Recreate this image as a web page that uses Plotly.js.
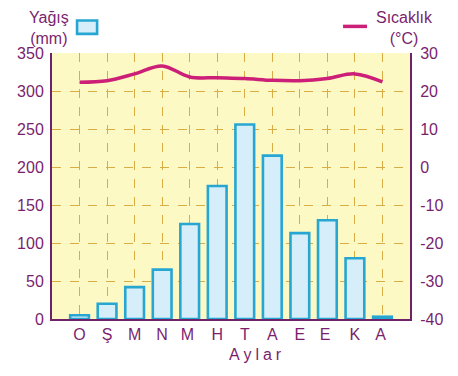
<!DOCTYPE html>
<html>
<head>
<meta charset="utf-8">
<script src="https://cdn.plot.ly/plotly-3.0.1.min.js"></script>
<style>
html,body{margin:0;padding:0;background:#fff;}
#chart{width:458px;height:376px;}
.spaced .annotation-text{letter-spacing:4px;}
</style>
</head>
<body>
<div id="chart"></div>
<script>
const months = ["O", "Ş", "M", "N", "M ", "H", "T", "A", "E", "E ", "K", "A "];
const monthIndex = [0, 1, 2, 3, 4, 5, 6, 7, 8, 9, 10, 11];
const precipitation = [5, 20, 42, 65, 125, 175, 256, 215, 113, 130, 80, 3];
const temperature = [22.3, 22.7, 24.5, 26.6, 23.7, 23.5, 23.3, 22.8, 22.7, 23.3, 24.5, 22.4];
const leftTicks = [0, 50, 100, 150, 200, 250, 300, 350];
const rightTicks = [-40, -30, -20, -10, 0, 10, 20, 30];
const rightTickText = ["-40", "-30", "-20", "-10", "0", "10", "20", "30"];

const purple = "#6e2368";
const textPurple = "#7a1f6f";
const font = "Liberation Sans, Arial, sans-serif";

const traces = [
  {
    type: "bar",
    x: monthIndex,
    y: precipitation,
    yaxis: "y",
    width: 0.68,
    marker: {color: "#d5eef9", line: {color: "#27a6d2", width: 2.6}},
    hoverinfo: "skip"
  },
  {
    type: "scatter",
    mode: "lines",
    x: monthIndex,
    y: temperature,
    yaxis: "y2",
    line: {color: "#cc1f78", width: 3.5, shape: "spline", smoothing: 1},
    hoverinfo: "skip"
  }
];

const layout = {
  width: 458,
  height: 376,
  margin: {l: 52, r: 48, t: 53, b: 57},
  paper_bgcolor: "#ffffff",
  plot_bgcolor: "#fdf9c4",
  showlegend: false,
  font: {family: font, color: textPurple, size: 15},
  xaxis: {
    range: [-1, 12],
    tickvals: monthIndex,
    ticktext: months,
    showgrid: true,
    gridcolor: "#d9ad45",
    griddash: "dash",
    gridwidth: 1,
    showline: true,
    linecolor: purple,
    linewidth: 2,
    ticks: "",
    zeroline: false,
    tickfont: {size: 16, color: textPurple, family: font},
    fixedrange: true
  },
  yaxis: {
    range: [0, 350],
    tickvals: leftTicks,
    showgrid: true,
    gridcolor: "#d9ad45",
    griddash: "dash",
    gridwidth: 1,
    showline: true,
    linecolor: purple,
    linewidth: 2,
    ticks: "",
    ticklabelstandoff: 3,
    zeroline: false,
    tickfont: {size: 16, color: textPurple, family: font}
  },
  yaxis2: {
    range: [-40, 30],
    tickvals: rightTicks,
    ticktext: rightTickText,
    overlaying: "y",
    side: "right",
    showgrid: false,
    showline: true,
    linecolor: purple,
    linewidth: 2,
    ticks: "",
    ticklabelstandoff: 5,
    zeroline: false,
    tickfont: {size: 16, color: textPurple, family: font}
  },
  annotations: [
    {xref: "paper", yref: "paper", x: 0.575, y: -0.135, xanchor: "center", yanchor: "middle",
     text: "Aylar", showarrow: false, font: {size: 16, color: textPurple, family: font}},
    {xref: "paper", yref: "paper", x: -0.008, y: 1.015, xanchor: "center", yanchor: "bottom",
     text: "Yağış<br>(mm)", align: "center", showarrow: false, font: {size: 16, color: textPurple, family: font}},
    {xref: "paper", yref: "paper", x: 0.986, y: 1.015, xanchor: "center", yanchor: "bottom",
     text: "Sıcaklık<br>(°C)", align: "center", showarrow: false, font: {size: 16, color: textPurple, family: font}}
  ],
  shapes: [
    {type: "rect", xref: "paper", yref: "paper", x0: 0.07, x1: 0.126, y0: 1.072, y1: 1.122,
     fillcolor: "#d5eef9", line: {color: "#27a6d2", width: 2.6}},
    {type: "line", xref: "paper", yref: "paper", x0: 0.813, x1: 0.88, y0: 1.1, y1: 1.1,
     line: {color: "#cc1f78", width: 3.5}}
  ]
};

Plotly.newPlot("chart", traces, layout, {staticPlot: true, displayModeBar: false}).then(function () {
  const anns = document.querySelectorAll(".annotation");
  if (anns.length) {
    anns[0].classList.add("spaced");
  }
});
</script>
</body>
</html>
